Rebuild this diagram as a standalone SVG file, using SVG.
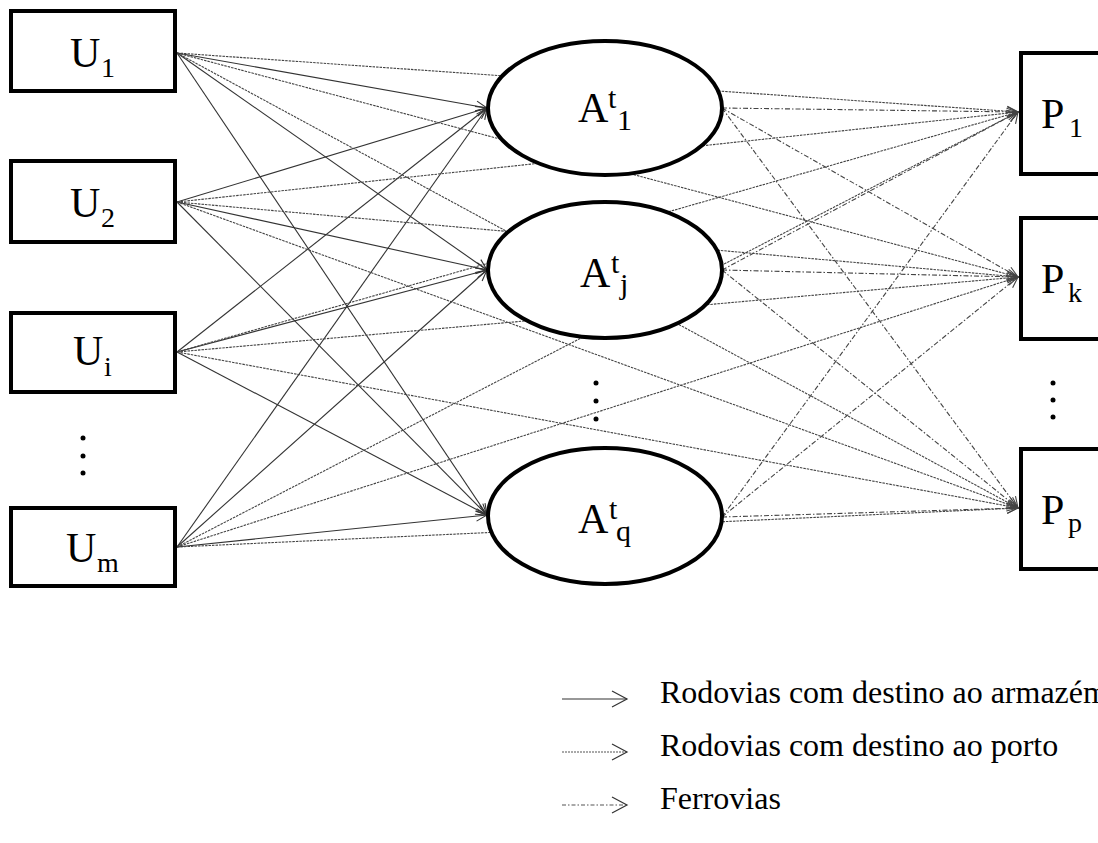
<svg xmlns="http://www.w3.org/2000/svg" width="1098" height="843" viewBox="0 0 1098 843">
<style>
text{font-family:"Liberation Serif","Times New Roman",serif;fill:#000}
.lbl{font-size:42px}
.sub{font-size:28px}
.sa{font-size:30px}
.leg{font-size:32px}
.box{fill:#fff;stroke:#000;stroke-width:4}
.ell{fill:#fff;stroke:#000;stroke-width:4}
.road{fill:none;stroke:#333;stroke-width:1.1;marker-end:url(#ah)}
.port{fill:none;stroke:#444;stroke-width:1.1;stroke-dasharray:2.5 1;marker-end:url(#ah2)}
.rail{fill:none;stroke:#444;stroke-width:1.1;stroke-dasharray:5 2 1.5 2;marker-end:url(#ah2)}
.dot{fill:#000}
</style>
<defs>
<marker id="ah" markerUnits="userSpaceOnUse" markerWidth="14" markerHeight="12" refX="11" refY="5" orient="auto" overflow="visible">
<path d="M0,0 L11,5 L0,10" fill="none" stroke="#333" stroke-width="1.1"/>
</marker>
<marker id="ah2" markerUnits="userSpaceOnUse" markerWidth="14" markerHeight="12" refX="11" refY="5" orient="auto" overflow="visible">
<path d="M0,0 L11,5 L0,10" fill="none" stroke="#444" stroke-width="1.1"/>
</marker>
<marker id="lh" markerUnits="userSpaceOnUse" markerWidth="18" markerHeight="18" refX="15" refY="8" orient="auto" overflow="visible">
<path d="M0,0 L15,8 L0,16" fill="none" stroke="#333" stroke-width="1.2"/>
</marker>
</defs>
<g id="connectors">
<!-- roads to warehouses -->
<line class="road" x1="177" y1="53" x2="487" y2="108"/>
<line class="road" x1="177" y1="53" x2="487" y2="270"/>
<line class="road" x1="177" y1="53" x2="487" y2="515"/>
<line class="road" x1="177" y1="202" x2="487" y2="108"/>
<line class="road" x1="177" y1="202" x2="487" y2="270"/>
<line class="road" x1="177" y1="202" x2="487" y2="515"/>
<line class="road" x1="177" y1="352" x2="487" y2="108"/>
<line class="road" x1="177" y1="352" x2="487" y2="270"/>
<line class="road" x1="177" y1="352" x2="487" y2="515"/>
<line class="road" x1="177" y1="547" x2="487" y2="108"/>
<line class="road" x1="177" y1="547" x2="487" y2="270"/>
<line class="road" x1="177" y1="547" x2="487" y2="515"/>
<!-- roads to ports -->
<line class="port" x1="177" y1="53" x2="1018" y2="112"/>
<line class="port" x1="177" y1="53" x2="1018" y2="277"/>
<line class="port" x1="177" y1="53" x2="1018" y2="508"/>
<line class="port" x1="177" y1="202" x2="1018" y2="112"/>
<line class="port" x1="177" y1="202" x2="1018" y2="277"/>
<line class="port" x1="177" y1="202" x2="1018" y2="508"/>
<line class="port" x1="177" y1="352" x2="1018" y2="112"/>
<line class="port" x1="177" y1="352" x2="1018" y2="277"/>
<line class="port" x1="177" y1="352" x2="1018" y2="508"/>
<line class="port" x1="177" y1="547" x2="1018" y2="112"/>
<line class="port" x1="177" y1="547" x2="1018" y2="277"/>
<line class="port" x1="177" y1="547" x2="1018" y2="508"/>
<!-- railways -->
<line class="rail" x1="722" y1="108" x2="1018" y2="112"/>
<line class="rail" x1="722" y1="108" x2="1018" y2="277"/>
<line class="rail" x1="722" y1="108" x2="1018" y2="508"/>
<line class="rail" x1="722" y1="270" x2="1018" y2="112"/>
<line class="rail" x1="722" y1="270" x2="1018" y2="277"/>
<line class="rail" x1="722" y1="270" x2="1018" y2="508"/>
<line class="rail" x1="722" y1="517" x2="1018" y2="112"/>
<line class="rail" x1="722" y1="517" x2="1018" y2="277"/>
<line class="rail" x1="722" y1="517" x2="1018" y2="508"/>
</g>
<g id="U1"><rect class="box" x="11" y="11" width="164" height="80"/><text class="lbl" x="70" y="67">U</text><text class="sub" x="101" y="77">1</text></g>
<g id="U2"><rect class="box" x="11" y="161" width="164" height="81"/><text class="lbl" x="70" y="217">U</text><text class="sub" x="101" y="227">2</text></g>
<g id="Ui"><rect class="box" x="11" y="313" width="164" height="79"/><text class="lbl" x="73" y="365">U</text><text class="sub" x="104" y="376">i</text></g>
<g id="Um"><rect class="box" x="11" y="508" width="164" height="78"/><text class="lbl" x="66" y="562">U</text><text class="sub" x="97" y="572">m</text></g>
<g id="dotsU"><circle class="dot" cx="83" cy="438" r="2.5"/><circle class="dot" cx="83" cy="456" r="2.5"/><circle class="dot" cx="83" cy="473" r="2.5"/></g>
<g id="A1"><ellipse class="ell" cx="605" cy="108" rx="117" ry="67"/><text class="lbl" x="578" y="122">A</text><text class="sa" x="608" y="108">t</text><text class="sa" x="617" y="130">1</text></g>
<g id="Aj"><ellipse class="ell" cx="605" cy="270" rx="117" ry="68"/><text class="lbl" x="580" y="287">A</text><text class="sa" x="611" y="273">t</text><text class="sa" x="620" y="294">j</text></g>
<g id="Aq"><ellipse class="ell" cx="605" cy="516" rx="117" ry="68"/><text class="lbl" x="578" y="533">A</text><text class="sa" x="609" y="519">t</text><text class="sa" x="616" y="541">q</text></g>
<g id="dotsA"><circle class="dot" cx="596" cy="383" r="2.5"/><circle class="dot" cx="596" cy="401" r="2.5"/><circle class="dot" cx="596" cy="419" r="2.5"/></g>
<g id="P1"><rect class="box" x="1021" y="53" width="120" height="121"/><text class="lbl" x="1041" y="128">P</text><text class="sub" x="1069" y="137">1</text></g>
<g id="Pk"><rect class="box" x="1021" y="218" width="120" height="121"/><text class="lbl" x="1041" y="293">P</text><text class="sub" x="1068" y="302">k</text></g>
<g id="Pp"><rect class="box" x="1021" y="449" width="120" height="120"/><text class="lbl" x="1041" y="524">P</text><text class="sub" x="1068" y="532">p</text></g>
<g id="dotsP"><circle class="dot" cx="1053" cy="383" r="2.5"/><circle class="dot" cx="1053" cy="400" r="2.5"/><circle class="dot" cx="1053" cy="417" r="2.5"/></g>
<g id="legend">
<line x1="562" y1="699" x2="627" y2="699" stroke="#333" stroke-width="1.2" marker-end="url(#lh)"/>
<line x1="562" y1="752" x2="627" y2="752" stroke="#555" stroke-width="1.2" stroke-dasharray="2 1" marker-end="url(#lh)"/>
<line x1="562" y1="805" x2="627" y2="805" stroke="#555" stroke-width="1.2" stroke-dasharray="4 2 1.5 2" marker-end="url(#lh)"/>
<text class="leg" x="660" y="703">Rodovias com destino ao armazém</text>
<text class="leg" x="660" y="756">Rodovias com destino ao porto</text>
<text class="leg" x="660" y="809">Ferrovias</text>
</g>
</svg>
